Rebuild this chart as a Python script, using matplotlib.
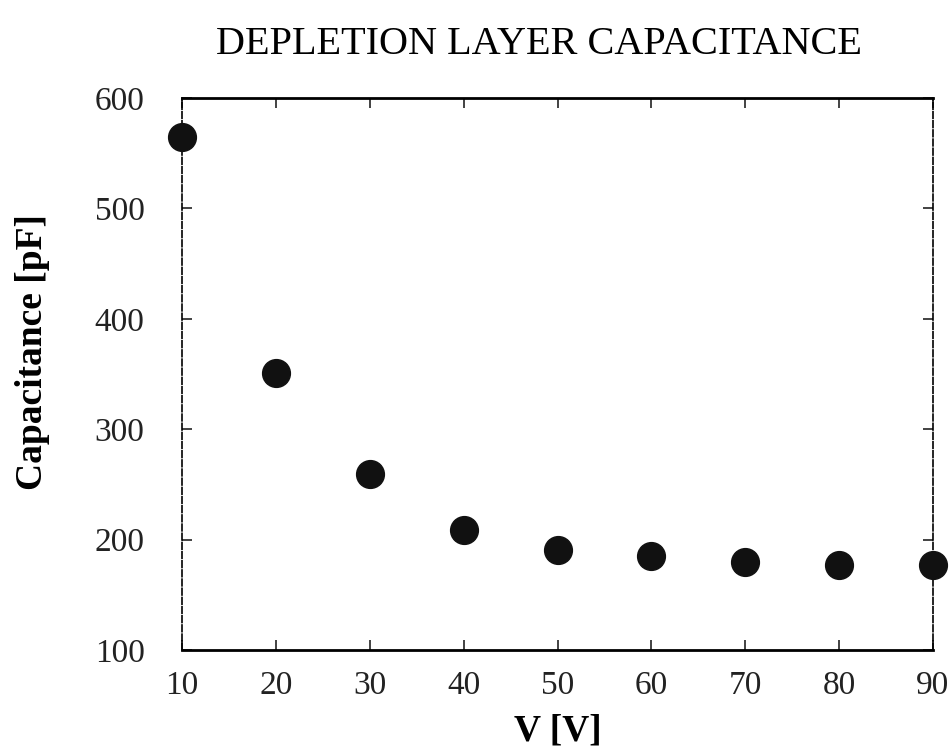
import matplotlib.pyplot as plt

voltage = [10, 20, 30, 40, 50, 60, 70, 80, 90]
capacitance = [565, 351, 259, 209, 191, 185, 180, 177, 177]
x_ticks = [10, 20, 30, 40, 50, 60, 70, 80, 90]
y_ticks = [100, 200, 300, 400, 500, 600]

plt.rcParams["font.family"] = ["Liberation Serif", "DejaVu Serif"]

fig = plt.figure(figsize=(9.53, 7.52), dpi=100)
ax = fig.add_axes([0.191, 0.1356, 0.788, 0.7341])

ax.plot(voltage, capacitance, "o", color="#111111", markersize=20, clip_on=False, zorder=5)

ax.set_xlim(10, 90)
ax.set_ylim(100, 600)
ax.set_xticks(x_ticks)
ax.set_yticks(y_ticks)
ax.tick_params(direction="in", top=True, right=True, length=7, width=1.2,
               labelsize=24, colors="#222222")
ax.tick_params(axis="x", pad=15)
ax.tick_params(axis="y", pad=27)

for side in ["top", "bottom"]:
    ax.spines[side].set_linewidth(2)
for side in ["left", "right"]:
    ax.spines[side].set_linewidth(1.2)
    ax.spines[side].set_linestyle((0, (4, 1.5)))

ax.set_title("DEPLETION LAYER CAPACITANCE", fontsize=29, pad=32, x=0.475)
ax.set_xlabel("V [V]", fontsize=27, fontweight="bold", labelpad=9)
ax.set_ylabel("Capacitance [pF]", fontsize=27, fontweight="bold")
ax.yaxis.set_label_coords(-0.176, 0.54)

fig.savefig("out.png", dpi=100)
